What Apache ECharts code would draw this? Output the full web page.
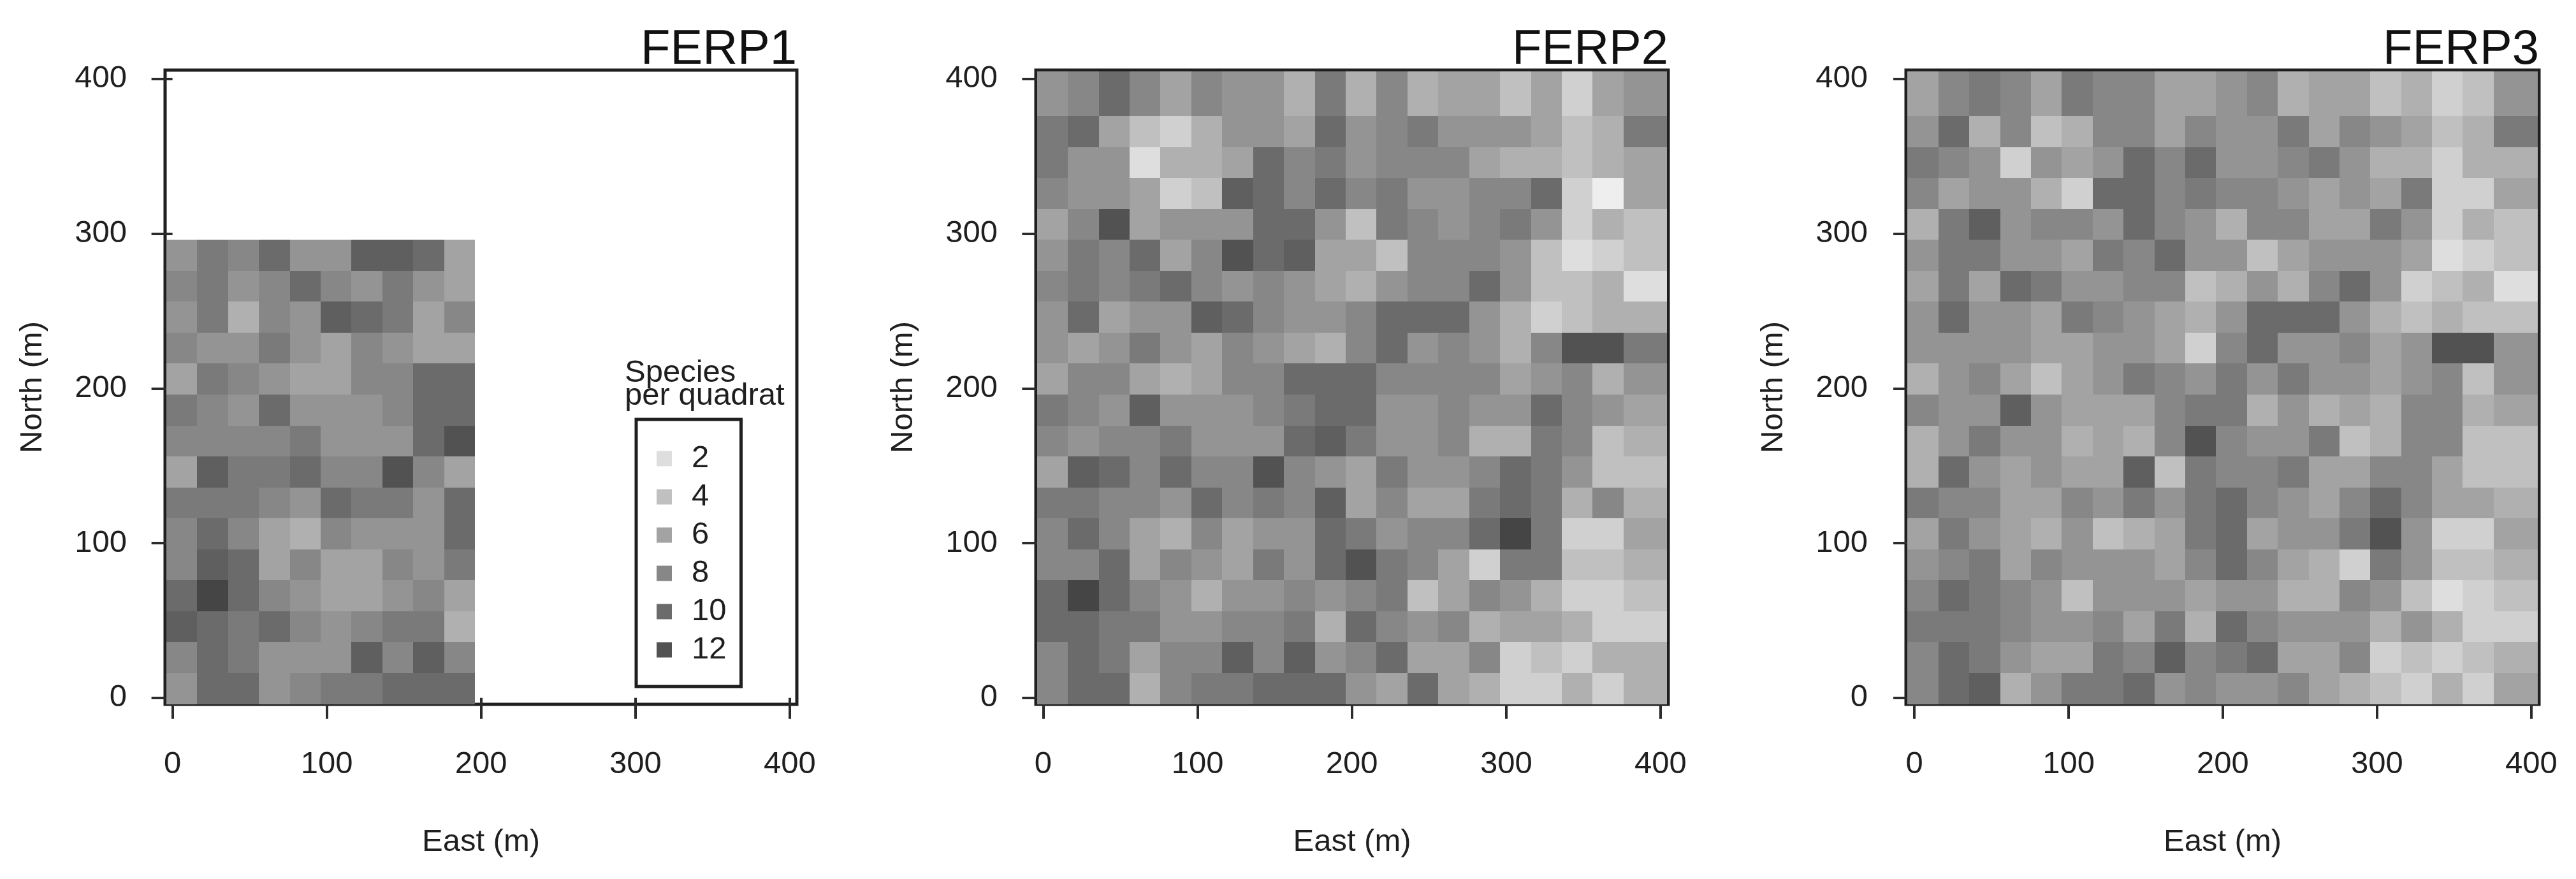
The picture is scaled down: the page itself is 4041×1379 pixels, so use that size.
<!DOCTYPE html>
<html><head><meta charset="utf-8">
<style>html,body{margin:0;padding:0;background:#fff}#c{width:4041px;height:1379px}</style>
<script src="https://cdn.jsdelivr.net/npm/echarts@6/dist/echarts.min.js"></script>
</head><body><div id="c"></div>
<script>
// Species per quadrat, rows listed north to south, columns west to east.
const ferp1Rows = [
[7,9,8,10,7,7,11,11,10,6],
[8,9,7,8,10,8,7,9,7,6],
[7,9,5,8,7,11,10,9,6,8],
[8,7,7,9,7,6,8,7,6,6],
[6,9,8,7,6,6,8,8,10,10],
[9,8,7,10,7,7,7,8,10,10],
[8,8,8,8,9,7,7,7,10,12],
[6,11,9,9,10,8,8,12,8,6],
[9,9,9,8,7,10,9,9,7,10],
[8,10,8,6,5,8,7,7,7,10],
[8,11,10,6,8,6,6,8,7,9],
[10,13,10,8,7,6,6,7,8,6],
[11,10,9,10,8,7,8,9,9,5],
[8,10,9,7,7,7,11,8,11,8],
[7,10,10,7,8,9,9,10,10,10]];
const ferp2Rows = [
[7,8,10,8,6,8,7,7,5,9,5,8,5,6,6,4,6,3,6,7],
[9,10,6,4,3,5,7,7,6,10,7,8,9,7,7,7,6,4,5,9],
[9,7,7,2,5,5,6,10,8,9,7,8,8,8,6,5,5,4,5,6],
[8,7,7,6,3,4,11,10,8,10,8,9,7,7,8,8,10,3,1,6],
[6,8,12,6,7,7,7,10,10,7,4,9,8,7,8,9,7,3,5,4],
[7,9,8,10,6,8,12,10,11,6,6,4,8,8,8,7,4,2,3,4],
[8,9,8,9,10,8,7,8,7,6,5,7,8,8,10,7,4,4,5,2],
[7,10,6,7,7,11,10,8,7,7,8,10,10,10,7,5,3,4,5,5],
[7,6,7,9,7,6,8,7,6,5,8,10,7,8,7,5,8,12,12,9],
[6,8,8,6,5,6,8,8,10,10,10,8,8,8,8,6,7,8,5,7],
[9,8,7,11,7,7,7,8,9,10,10,7,7,8,7,7,10,8,7,6],
[8,7,8,8,9,7,7,7,10,11,9,7,7,8,5,5,9,8,4,5],
[6,11,10,8,10,8,8,12,8,7,6,9,7,7,8,10,9,7,4,4],
[9,9,8,8,7,10,8,9,8,11,6,8,6,6,9,10,9,5,8,5],
[8,10,8,6,5,8,6,7,7,10,9,7,8,8,10,13,9,3,3,6],
[8,8,10,6,8,7,6,9,7,10,12,9,8,6,3,9,9,4,4,5],
[10,13,10,8,7,5,7,7,8,7,8,9,4,6,8,7,5,3,3,4],
[10,10,9,9,7,7,8,8,9,5,10,8,7,8,5,6,6,5,3,3],
[8,10,9,6,8,8,11,8,11,7,8,10,6,6,8,3,4,3,5,5],
[8,10,10,5,8,9,9,10,10,10,7,6,10,6,5,3,3,5,3,5]];
const ferp3Rows = [
[6,8,9,8,6,9,8,8,6,6,7,8,5,6,6,4,5,3,4,7],
[7,10,5,8,4,5,8,8,6,8,7,7,9,6,8,7,6,4,5,9],
[9,8,7,3,7,6,7,10,8,10,7,7,8,9,7,5,5,3,5,5],
[8,6,7,7,5,3,10,10,8,9,8,8,7,6,7,6,9,3,3,6],
[5,9,11,7,8,8,7,10,8,7,5,8,8,6,6,9,7,3,5,4],
[7,9,9,7,7,6,9,8,10,7,7,4,6,7,7,7,6,2,3,4],
[6,9,6,10,9,7,7,8,8,4,5,7,5,8,10,7,3,4,5,2],
[7,10,7,7,6,9,8,7,6,5,7,10,10,10,7,5,4,5,4,4],
[7,7,7,7,6,6,7,7,6,3,8,10,7,7,8,6,7,12,12,7],
[5,7,8,6,4,6,7,9,8,7,9,7,9,7,7,6,7,8,4,7],
[8,7,7,11,7,6,6,6,8,9,9,5,7,5,6,5,8,8,5,6],
[5,7,9,7,7,5,6,5,8,12,8,7,7,9,4,5,8,8,4,4],
[5,10,7,6,7,6,6,11,4,9,8,8,9,6,6,8,8,6,4,4],
[9,8,8,6,6,8,7,9,7,9,10,8,7,6,8,10,8,6,6,5],
[6,9,7,6,5,7,4,5,6,9,10,6,7,7,9,12,7,3,3,6],
[7,8,9,6,8,7,7,7,6,8,10,8,6,5,3,9,7,4,4,5],
[8,10,9,8,7,4,7,7,7,6,7,7,5,5,8,7,4,2,3,4],
[9,9,9,8,7,7,8,6,9,5,10,8,7,7,7,5,7,5,3,3],
[8,10,9,7,6,6,9,8,11,8,9,10,6,6,8,3,4,3,4,5],
[8,10,11,5,7,9,9,10,7,8,7,7,8,6,5,4,3,5,3,6]];
const panelNames = ['FERP1','FERP2','FERP3'];
const tickValues = [0,100,200,300,400];
const legendValues = ['2','4','6','8','10','12'];
const grays = {1:'#eeeeee',2:'#dedede',3:'#d0d0d0',4:'#c0c0c0',5:'#b0b0b0',6:'#a3a3a3',7:'#949494',8:'#878787',9:'#7a7a7a',10:'#6b6b6b',11:'#5f5f5f',12:'#525252',13:'#454545'};

const FONT = 'Liberation Sans', INK = '#1f1f1f';
const layouts = [
  {left:259,  right:1250, xMin:-4.8, xMax:404.6, edge:-4.0},
  {left:1625, right:2617, xMin:-4.7, xMax:405.0, edge:-4.0},
  {left:2990, right:3983, xMin:-5.4, xMax:405.0, edge:-4.4}
];
const CELL = 20, TOP = 110, BOTTOM = 1105;

function cells(rows, edge){
  const out = [], n = rows.length;
  rows.forEach((row, r) => row.forEach((v, c) => {
    const x0 = edge + c*CELL, y0 = -4 + (n-1-r)*CELL;
    // In the full plots the last column and top row run on to the frame.
    const x1 = (n === 20 && c === row.length-1) ? 404.2 : x0 + CELL;
    const y1 = (n === 20 && r === 0) ? 405 : y0 + CELL;
    out.push([x0, y0, x1, y1, v]);
  }));
  return out;
}
const allRows = [ferp1Rows, ferp2Rows, ferp3Rows];

const axisBase = {
  type:'value', splitLine:{show:false}, axisLine:{show:false},
  nameLocation:'middle', silent:true,
  nameTextStyle:{fontFamily:FONT, fontSize:49, color:INK},
  axisTick:{show:true, length:33, customValues:tickValues, lineStyle:{color:'#2b2b2b', width:4}},
  axisLabel:{show:true, customValues:tickValues, fontFamily:FONT, fontSize:49, color:INK}
};

const option = {
  animation:false, backgroundColor:'#ffffff',
  grid: layouts.map(l => ({left:l.left, top:TOP, width:l.right-l.left, height:BOTTOM-TOP, containLabel:false,
    show:true, borderColor:'#1f1f1f', borderWidth:5, backgroundColor:'#fff'})),
  xAxis: layouts.map((l,i) => ({...axisBase, gridIndex:i, min:l.xMin, max:l.xMax, name:'East (m)', nameGap:192,
    axisLabel:{...axisBase.axisLabel, margin:70}})),
  yAxis: layouts.map((l,i) => ({...axisBase, gridIndex:i, min:-4.2, max:405.7, name:'North (m)', nameGap:183,
    axisLabel:{...axisBase.axisLabel, margin:60}})),
  title: panelNames.map((t,i) => ({text:t, right:4041-layouts[i].right, top:41, padding:0,
      textStyle:{fontFamily:FONT, fontWeight:'normal', fontSize:76, color:'#111'}}))
    .concat([{text:'Species\nper quadrat', left:980, top:567, padding:0,
      textStyle:{fontFamily:FONT, fontWeight:'normal', fontSize:49, lineHeight:36, color:INK}}]),
  legend:{
    orient:'vertical', left:998, top:658, data:legendValues.map(n => ({name:n})),
    icon:'rect', itemWidth:24, itemHeight:24, itemGap:11, selectedMode:false,
    padding:[37,23,33,32], borderColor:'#1f1f1f', borderWidth:5, backgroundColor:'#fff',
    textStyle:{fontFamily:FONT, fontSize:49, lineHeight:24, color:INK, padding:[0,0,0,26]}
  },
  series: allRows.map((rows,i) => ({
    type:'custom', xAxisIndex:i, yAxisIndex:i, coordinateSystem:'cartesian2d', silent:true,
    clip:false,
    data: cells(rows, layouts[i].edge),
    encode:{x:[0,2], y:[1,3]},
    renderItem:(p, api) => {
      const a = api.coord([api.value(0), api.value(1)]);
      const b = api.coord([api.value(2), api.value(3)]);
      const x = Math.round(a[0]), y = Math.round(b[1]);
      return {type:'rect', shape:{x, y, width:Math.round(b[0])-x, height:Math.round(a[1])-y},
        style:{fill:grays[api.value(4)]}};
    }
  })).concat(legendValues.map(n => ({
    type:'scatter', name:n, xAxisIndex:0, yAxisIndex:0, data:[], itemStyle:{color:grays[+n], opacity:1}
  })))
};
const chart = echarts.init(document.getElementById('c'), null, {renderer:'canvas'});
chart.setOption(option);
</script></body></html>
